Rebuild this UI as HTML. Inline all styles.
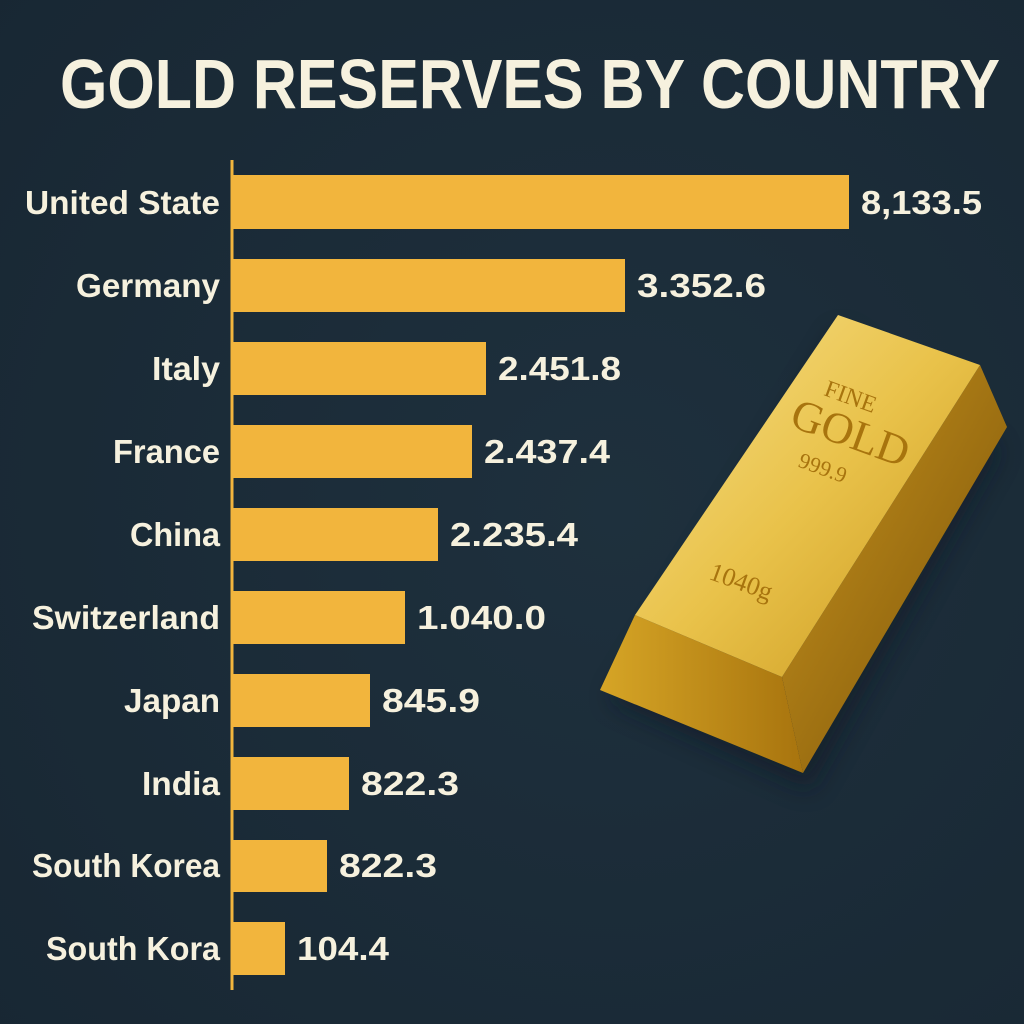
<!DOCTYPE html>
<html><head><meta charset="utf-8"><style>
html,body{margin:0;padding:0;background:#1b2b38;}
svg{display:block}
.t{font-family:"Liberation Sans",sans-serif;font-weight:bold;fill:#f6f1de}
.g{font-family:"Liberation Serif",serif;fill:#a8740e}
</style></head><body>
<svg width="1024" height="1024" viewBox="0 0 1024 1024">
<defs>
<radialGradient id="bg" cx="0.6" cy="0.5" r="0.8"><stop offset="0" stop-color="#1e303d"/><stop offset="1" stop-color="#182733"/></radialGradient>
<linearGradient id="top" x1="0" y1="0" x2="1" y2="1"><stop offset="0" stop-color="#f7e08a"/><stop offset="0.5" stop-color="#e9c24a"/><stop offset="1" stop-color="#c8961c"/></linearGradient>
<linearGradient id="side" x1="0" y1="0" x2="1" y2="1"><stop offset="0" stop-color="#c89420"/><stop offset="1" stop-color="#7a5206"/></linearGradient>
<linearGradient id="front" x1="0" y1="0" x2="1" y2="0"><stop offset="0" stop-color="#d6a526"/><stop offset="1" stop-color="#a8740e"/></linearGradient>
<filter id="blur"><feGaussianBlur stdDeviation="12"/></filter>
</defs>
<rect width="1024" height="1024" fill="url(#bg)"/>
<text class="t" x="60" y="108" font-size="70" textLength="940" lengthAdjust="spacingAndGlyphs">GOLD RESERVES BY COUNTRY</text>
<line x1="232" y1="160" x2="232" y2="990" stroke="#f2b53d" stroke-width="3"/>
<g fill="#f2b53d">
<rect x="233" y="175" width="616" height="54"/>
<rect x="233" y="259" width="392" height="53"/>
<rect x="233" y="342" width="253" height="53"/>
<rect x="233" y="425" width="239" height="53"/>
<rect x="233" y="508" width="205" height="53"/>
<rect x="233" y="591" width="172" height="53"/>
<rect x="233" y="674" width="137" height="53"/>
<rect x="233" y="757" width="116" height="53"/>
<rect x="233" y="840" width="94" height="52"/>
<rect x="233" y="922" width="52" height="53"/>
</g>
<g class="t" font-size="33" text-anchor="end">
<text class="t" x="220" y="214" textLength="195" lengthAdjust="spacingAndGlyphs">United State</text>
<text class="t" x="220" y="297" textLength="144" lengthAdjust="spacingAndGlyphs">Germany</text>
<text class="t" x="220" y="380" textLength="68" lengthAdjust="spacingAndGlyphs">Italy</text>
<text class="t" x="220" y="463" textLength="107" lengthAdjust="spacingAndGlyphs">France</text>
<text class="t" x="220" y="546" textLength="90" lengthAdjust="spacingAndGlyphs">China</text>
<text class="t" x="220" y="629" textLength="188" lengthAdjust="spacingAndGlyphs">Switzerland</text>
<text class="t" x="220" y="712" textLength="96" lengthAdjust="spacingAndGlyphs">Japan</text>
<text class="t" x="220" y="795" textLength="78" lengthAdjust="spacingAndGlyphs">India</text>
<text class="t" x="220" y="877" textLength="188" lengthAdjust="spacingAndGlyphs">South Korea</text>
<text class="t" x="220" y="960" textLength="174" lengthAdjust="spacingAndGlyphs">South Kora</text>
</g>
<g font-size="33">
<text class="t" x="861" y="214" textLength="121" lengthAdjust="spacingAndGlyphs">8,133.5</text>
<text class="t" x="637" y="297" textLength="129" lengthAdjust="spacingAndGlyphs">3.352.6</text>
<text class="t" x="498" y="380" textLength="123" lengthAdjust="spacingAndGlyphs">2.451.8</text>
<text class="t" x="484" y="463" textLength="126" lengthAdjust="spacingAndGlyphs">2.437.4</text>
<text class="t" x="450" y="546" textLength="128" lengthAdjust="spacingAndGlyphs">2.235.4</text>
<text class="t" x="417" y="629" textLength="129" lengthAdjust="spacingAndGlyphs">1.040.0</text>
<text class="t" x="382" y="712" textLength="98" lengthAdjust="spacingAndGlyphs">845.9</text>
<text class="t" x="361" y="795" textLength="98" lengthAdjust="spacingAndGlyphs">822.3</text>
<text class="t" x="339" y="877" textLength="98" lengthAdjust="spacingAndGlyphs">822.3</text>
<text class="t" x="297" y="960" textLength="92" lengthAdjust="spacingAndGlyphs">104.4</text>
</g>
<!-- gold bar -->
<polygon points="610,700 810,790 1000,450 840,330" fill="#0e1820" opacity="0.5" filter="url(#blur)"/>
<polygon points="980,365 1007,427 803,773 782,677" fill="url(#side)"/>
<polygon points="635,615 782,677 803,773 600,690" fill="url(#front)"/>
<polygon points="838,315 980,365 782,677 635,615" fill="url(#top)"/>
<text class="g" x="848" y="404" font-size="24" text-anchor="middle" transform="rotate(20 848 404)">FINE</text>
<text class="g" x="848" y="447" font-size="44" text-anchor="middle" transform="rotate(20 848 440)">GOLD</text>
<text class="g" x="822" y="475" font-size="22" text-anchor="middle" transform="rotate(20 822 470)">999.9</text>
<text class="g" x="740" y="590" font-size="26" text-anchor="middle" transform="rotate(20 740 585)">1040g</text>
</svg>
</body></html>
